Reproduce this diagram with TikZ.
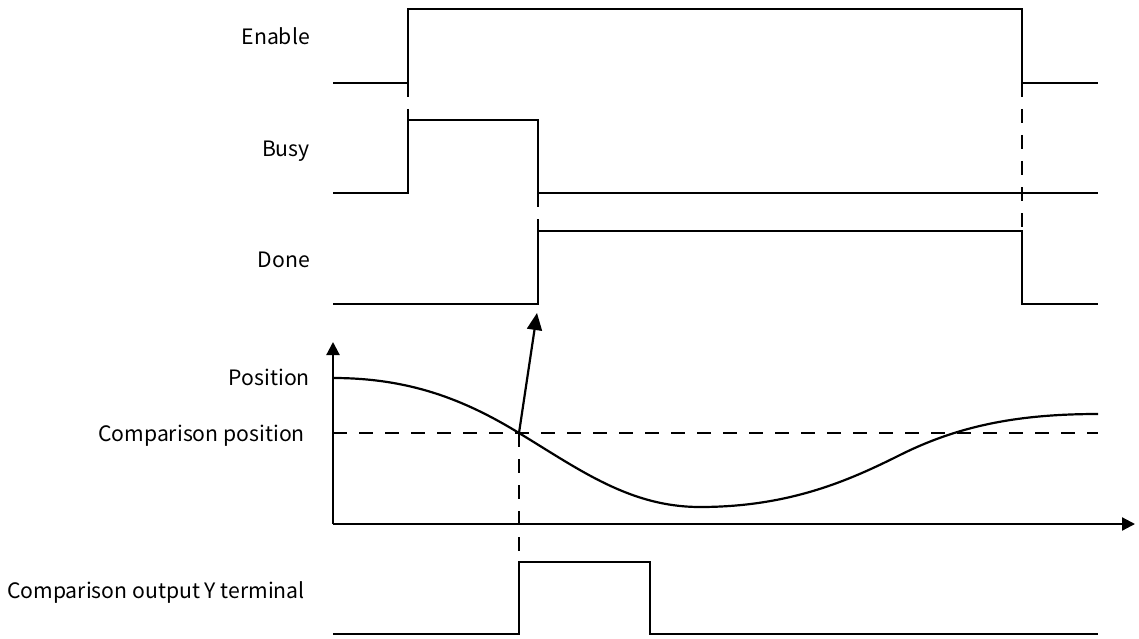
\documentclass[tikz,border=0pt]{standalone}
\usepackage{fontspec}
\setmainfont{Noto Sans CJK SC}
\usetikzlibrary{arrows.meta, positioning, calc}
\tikzset{
  sig/.style   = {line width=2.2pt, line join=miter},
  guide/.style = {line width=2.2pt, dash pattern=on 14pt off 12pt},
  axis/.style  = {line width=2.2pt, -{Triangle[length=13pt, width=13pt]}},
  trig/.style  = {line width=2.2pt, -{Triangle[length=17pt, width=15pt]}},
  lbl/.style   = {anchor=base east, inner sep=0pt,
                  font=\fontsize{21.2}{26}\selectfont},
}

\begin{document}
\begin{tikzpicture}[x=1pt, y=-1pt]
  \useasboundingbox (0,0) rectangle (1139,639);
  % labels
  \foreach \nm/\y/\txt in {enable/45/Enable, busy/157/Busy, done/267/Done, pos/385/Position} {
    \node[lbl] (\nm) at (310,\y) {\txt};
  }
  \node[lbl] (cmppos) at (305,441) {Comparison position};
  \node[lbl] (ylbl) at (305,598) {Comparison output Y terminal};

  % signals
  \draw[sig] (333,83) -- (408,83) -- (408,9) -- (1022,9) -- (1022,83) -- (1098,83);
  \draw[sig] (333,193) -- (408,193) -- (408,120) -- (538,120) -- (538,193) -- (1098,193);
  \draw[sig] (333,304) -- (538,304) -- (538,231) -- (1022,231) -- (1022,304) -- (1098,304);
  \draw[sig] (333,634) -- (519,634) -- (519,562) -- (650,562) -- (650,634) -- (1098,634);

  % axes and position curve
  \coordinate (org) at (333,524);
  \draw[axis] (org) -- (333,342);
  \draw[axis] (org) -- (1135,524);
  \coordinate (cross) at (519,433);
  \coordinate (tip) at (537,313);
  \draw[sig] (333,378) .. controls (410,378) and (465,400) .. (cross)
    .. controls (580,470) and (630,507) .. (700,507)
    .. controls (790,507) and (850,480) .. (900,455)
    .. controls (960,425) and (1020,414) .. (1098,414);
  \draw[guide] (333,433) -- (1098,433);

  % timing guides
  \draw[guide] (408,83) -- (408,120);
  \draw[guide] (538,193) -- (538,231);
  \draw[guide] (1022,83) -- (1022,231);
  \draw[guide] (cross) -- (519,562);
  \draw[trig] (cross) -- (tip);
\end{tikzpicture}
\end{document}
